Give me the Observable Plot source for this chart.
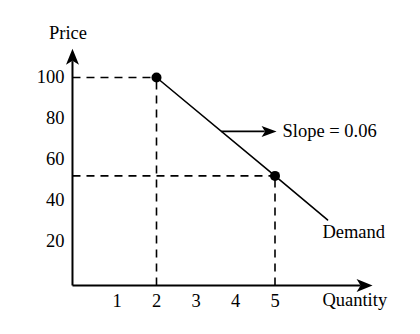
<!DOCTYPE html>
<html><head><meta charset="utf-8">
<script src="https://cdn.jsdelivr.net/npm/d3@7"></script>
<script src="https://cdn.jsdelivr.net/npm/@observablehq/plot@0.6"></script>
<style>body{margin:0;background:#fff}</style>
</head><body><div id="chart"></div>
<script>
// ---- data ----
const quantityTicks = [1, 2, 3, 4, 5];
const priceTicks = [20, 40, 60, 80, 100];
const demandQ = [2, 5, 6.33];
const demandP = [100, 52, 30.5];
const markedQ = [2, 5];
const markedP = [100, 52];
const xAxisLabel = "Quantity";
const yAxisLabel = "Price";
const curveLabel = "Demand";
const slopeLabel = "Slope = 0.06";
const slopeArrowQ = [3.64, 5.04];
const slopeArrowP = 73.7;

// ---- derived tables ----
const demand = demandQ.map((q, i) => ({q, p: demandP[i]}));
const marked = markedQ.map((q, i) => ({q, p: markedP[i]}));
const originQ = -0.127, originP = -1.46, xEnd = 7.47, yEnd = 114;

function stealth(len, half, notch) {
  return {draw(ctx) {
    ctx.moveTo(0, 0); ctx.lineTo(-len, -half); ctx.lineTo(-len + notch, 0);
    ctx.lineTo(-len, half); ctx.closePath();
  }};
}
const bigHead = stealth(16, 6.5, 4);
const smallHead = stealth(15, 5.5, 3.5);

const font = "'Liberation Serif', 'Times New Roman', serif";
const fs = 18.5;

const chart = Plot.plot({
  width: 420, height: 334,
  marginLeft: 77, marginRight: 66.5, marginTop: 36, marginBottom: 52,
  style: {fontFamily: font, fontSize: fs + "px", background: "#fff", color: "#000"},
  x: {domain: [0, 7]},
  y: {domain: [0, 120]},
  marks: [
    // dashed guides
    Plot.link(marked, {x1: originQ, y1: "p", x2: "q", y2: "p", stroke: "#000", strokeWidth: 1.6, strokeDasharray: "8,6"}),
    Plot.link(marked, {x1: "q", y1: originP, x2: "q", y2: "p", stroke: "#000", strokeWidth: 1.6, strokeDasharray: "8,6"}),
    // axes lines with arrowheads
    Plot.link([0], {x1: originQ, y1: originP, x2: xEnd - 0.3, y2: originP, stroke: "#000", strokeWidth: 2}),
    Plot.link([0], {x1: originQ, y1: originP, x2: originQ, y2: yEnd - 6, stroke: "#000", strokeWidth: 2}),
    Plot.dot([0], {x: xEnd, y: originP, symbol: bigHead, fill: "#000", stroke: null}),
    Plot.dot([0], {x: originQ, y: yEnd, symbol: bigHead, rotate: -90, fill: "#000", stroke: null}),
    Plot.axisX({ticks: quantityTicks, tickFormat: "d", tickSize: 0, tickPadding: 11, label: null, fontSize: fs}),
    Plot.axisY({ticks: priceTicks, tickFormat: "d", tickSize: 0, tickPadding: 13, label: null, fontSize: fs}),
    // demand curve
    Plot.line(demand, {x: "q", y: "p", stroke: "#000", strokeWidth: 1.6}),
    Plot.dot(marked, {x: "q", y: "p", r: 5, fill: "#000"}),
    // slope arrow
    Plot.link([0], {x1: slopeArrowQ[0], y1: slopeArrowP, x2: slopeArrowQ[1] - 0.3, y2: slopeArrowP, stroke: "#000", strokeWidth: 1.6}),
    Plot.dot([0], {x: slopeArrowQ[1], y: slopeArrowP, symbol: smallHead, fill: "#000", stroke: null}),
    // labels
    Plot.text([slopeLabel], {x: 5.19, y: slopeArrowP, text: d => d, textAnchor: "start", fontSize: fs}),
    Plot.text([curveLabel], {x: 6.2, y: 24.4, text: d => d, textAnchor: "start", fontSize: fs}),
    Plot.text([xAxisLabel], {x: 6.2, y: -8.8, text: d => d, textAnchor: "start", fontSize: fs}),
    Plot.text([yAxisLabel], {x: -0.24, y: 121.5, text: d => d, textAnchor: "middle", fontSize: fs})
  ]
});
document.getElementById("chart").append(chart);
</script>
</body></html>
